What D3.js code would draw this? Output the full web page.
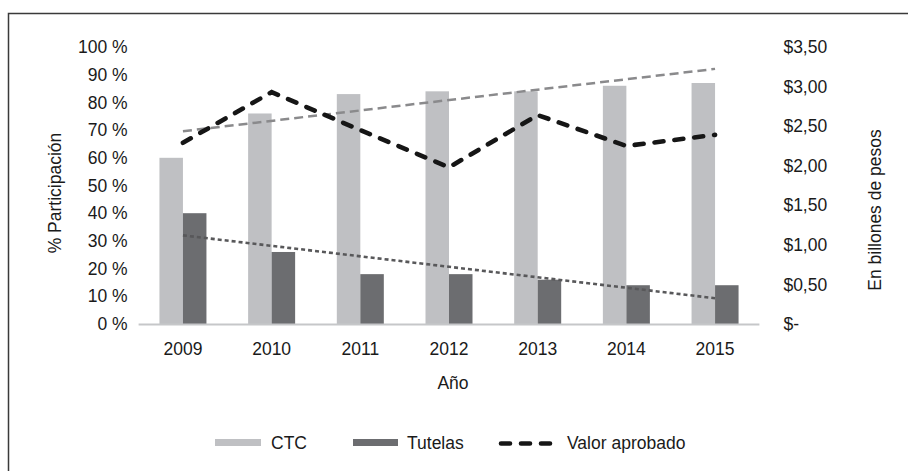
<!DOCTYPE html>
<html>
<head>
<meta charset="utf-8">
<script src="https://cdn.jsdelivr.net/npm/d3@7"></script>
<style>
  body { margin: 0; background: #fff; }
  text { font-family: "Liberation Sans", Arial, sans-serif; fill: #1a1a1a; }
</style>
</head>
<body>
<div id="chart"></div>
<script>
// data
const years = ['2009', '2010', '2011', '2012', '2013', '2014', '2015'];
const ctc = [60, 76, 83, 84, 84, 86, 87];
const tutelas = [40, 26, 18, 18, 16, 14, 14];
const valorAprobado = [2.29, 2.93, 2.45, 1.98, 2.64, 2.25, 2.39];
// linear trend lines (start 2009, end 2015)
const ctcTrend = [69.6, 92.1];
const tutelasTrend = [32.0, 9.3];

const leftTicks = [0, 10, 20, 30, 40, 50, 60, 70, 80, 90, 100];
const rightTicks = [0, 0.5, 1, 1.5, 2, 2.5, 3, 3.5];

const width = 908, height = 471;
const margin = {top: 47, bottom: 147, left: 138.6, right: 148.6};

const svg = d3.select('#chart').append('svg')
    .attr('width', width)
    .attr('height', height);

// outer frame (runs off the right and bottom edge)
svg.append('rect')
    .attr('x', 8.5).attr('y', 13.5)
    .attr('width', 920).attr('height', 480)
    .attr('fill', 'none')
    .attr('stroke', '#3a3a3a')
    .attr('stroke-width', 1.5);

const x = d3.scaleBand()
    .domain(years)
    .range([margin.left, width - margin.right])
    .paddingInner(0.47)
    .paddingOuter(0.235);

const sub = d3.scaleBand()
    .domain(['ctc', 'tutelas'])
    .range([0, x.bandwidth()]);

const yLeft = d3.scaleLinear().domain([0, 100]).range([324, margin.top]);
const yRight = d3.scaleLinear().domain([0, 3.5]).range([324, margin.top]);

const cx = function(d) { return x(d) + x.bandwidth() / 2; };

// bars
const bars = svg.append('g');
bars.selectAll('.ctc')
    .data(years)
    .enter().append('rect')
        .attr('x', function(d) { return x(d) + sub('ctc'); })
        .attr('y', function(d, i) { return yLeft(ctc[i]); })
        .attr('width', sub.bandwidth())
        .attr('height', function(d, i) { return yLeft(0) - yLeft(ctc[i]); })
        .attr('fill', '#bfc0c3');
bars.selectAll('.tut')
    .data(years)
    .enter().append('rect')
        .attr('x', function(d) { return x(d) + sub('tutelas'); })
        .attr('y', function(d, i) { return yLeft(tutelas[i]); })
        .attr('width', sub.bandwidth())
        .attr('height', function(d, i) { return yLeft(0) - yLeft(tutelas[i]); })
        .attr('fill', '#6c6d70');

// baseline
svg.append('line')
    .attr('x1', margin.left).attr('x2', width - margin.right)
    .attr('y1', yLeft(0) + 0.5).attr('y2', yLeft(0) + 0.5)
    .attr('stroke', '#c6c7c9')
    .attr('stroke-width', 2);

// left axis
const leftAxis = svg.append('g')
    .attr('transform', 'translate(' + (margin.left - 11) + ',0)')
    .call(d3.axisLeft(yLeft).tickValues(leftTicks).tickSize(0).tickPadding(0)
        .tickFormat(function(d) { return d + ' %'; }));
leftAxis.select('.domain').remove();
leftAxis.selectAll('text')
    .style('font-size', '17.5px')
    .attr('fill', '#1a1a1a')
    .attr('font-family', '"Liberation Sans", Arial, sans-serif');

// right axis
const rightAxis = svg.append('g')
    .attr('transform', 'translate(' + (width - margin.right + 24) + ',0)')
    .call(d3.axisRight(yRight).tickValues(rightTicks).tickSize(0).tickPadding(0)
        .tickFormat(function(d) {
            return d === 0 ? '$-' : '$' + d.toFixed(2).replace('.', ',');
        }));
rightAxis.select('.domain').remove();
rightAxis.selectAll('text')
    .style('font-size', '17.5px')
    .attr('fill', '#1a1a1a')
    .attr('font-family', '"Liberation Sans", Arial, sans-serif');

// x axis labels
const xAxis = svg.append('g')
    .attr('transform', 'translate(0,' + 343 + ')')
    .call(d3.axisBottom(x).tickSize(0).tickPadding(0));
xAxis.select('.domain').remove();
xAxis.selectAll('text')
    .style('font-size', '17.5px')
    .attr('fill', '#1a1a1a')
    .attr('font-family', '"Liberation Sans", Arial, sans-serif');

// axis titles
svg.append('text')
    .attr('x', 453).attr('y', 389)
    .attr('text-anchor', 'middle')
    .style('font-size', '17.5px')
    .text('Año');
svg.append('text')
    .attr('transform', 'translate(61,193) rotate(-90)')
    .attr('text-anchor', 'middle')
    .style('font-size', '17.5px')
    .text('% Participación');
svg.append('text')
    .attr('transform', 'translate(881,210) rotate(-90)')
    .attr('text-anchor', 'middle')
    .style('font-size', '17.5px')
    .text('En billones de pesos');

// trend lines
const ends = [years[0], years[years.length - 1]];
svg.append('line')
    .attr('x1', cx(ends[0])).attr('x2', cx(ends[1]))
    .attr('y1', yLeft(ctcTrend[0])).attr('y2', yLeft(ctcTrend[1]))
    .attr('stroke', '#8a8a8c')
    .attr('stroke-width', 2.5)
    .attr('stroke-dasharray', '9,5');
svg.append('line')
    .attr('x1', cx(ends[0])).attr('x2', cx(ends[1]))
    .attr('y1', yLeft(tutelasTrend[0])).attr('y2', yLeft(tutelasTrend[1]))
    .attr('stroke', '#58585a')
    .attr('stroke-width', 2.6)
    .attr('stroke-dasharray', '4,3');

// valor aprobado line
const line = d3.line()
    .x(function(d, i) { return cx(years[i]); })
    .y(function(d) { return yRight(d); });
svg.append('path')
    .datum(valorAprobado)
    .attr('d', line)
    .attr('fill', 'none')
    .attr('stroke', '#161616')
    .attr('stroke-width', 4.6)
    .attr('stroke-linecap', 'round')
    .attr('stroke-dasharray', '9,11');

// legend
const legend = svg.append('g');
legend.append('rect')
    .attr('x', 215).attr('y', 439)
    .attr('width', 46).attr('height', 7)
    .attr('fill', '#bfc0c3');
legend.append('text')
    .attr('x', 271).attr('y', 449)
    .style('font-size', '17.5px')
    .text('CTC');
legend.append('rect')
    .attr('x', 353).attr('y', 439)
    .attr('width', 45).attr('height', 7)
    .attr('fill', '#6c6d70');
legend.append('text')
    .attr('x', 407).attr('y', 449)
    .style('font-size', '17.5px')
    .text('Tutelas');
legend.append('line')
    .attr('x1', 501).attr('x2', 552)
    .attr('y1', 443.5).attr('y2', 443.5)
    .attr('stroke', '#161616')
    .attr('stroke-width', 4.6)
    .attr('stroke-linecap', 'round')
    .attr('stroke-dasharray', '9,11');
legend.append('text')
    .attr('x', 567).attr('y', 449)
    .style('font-size', '17.5px')
    .text('Valor aprobado');
</script>
</body>
</html>
